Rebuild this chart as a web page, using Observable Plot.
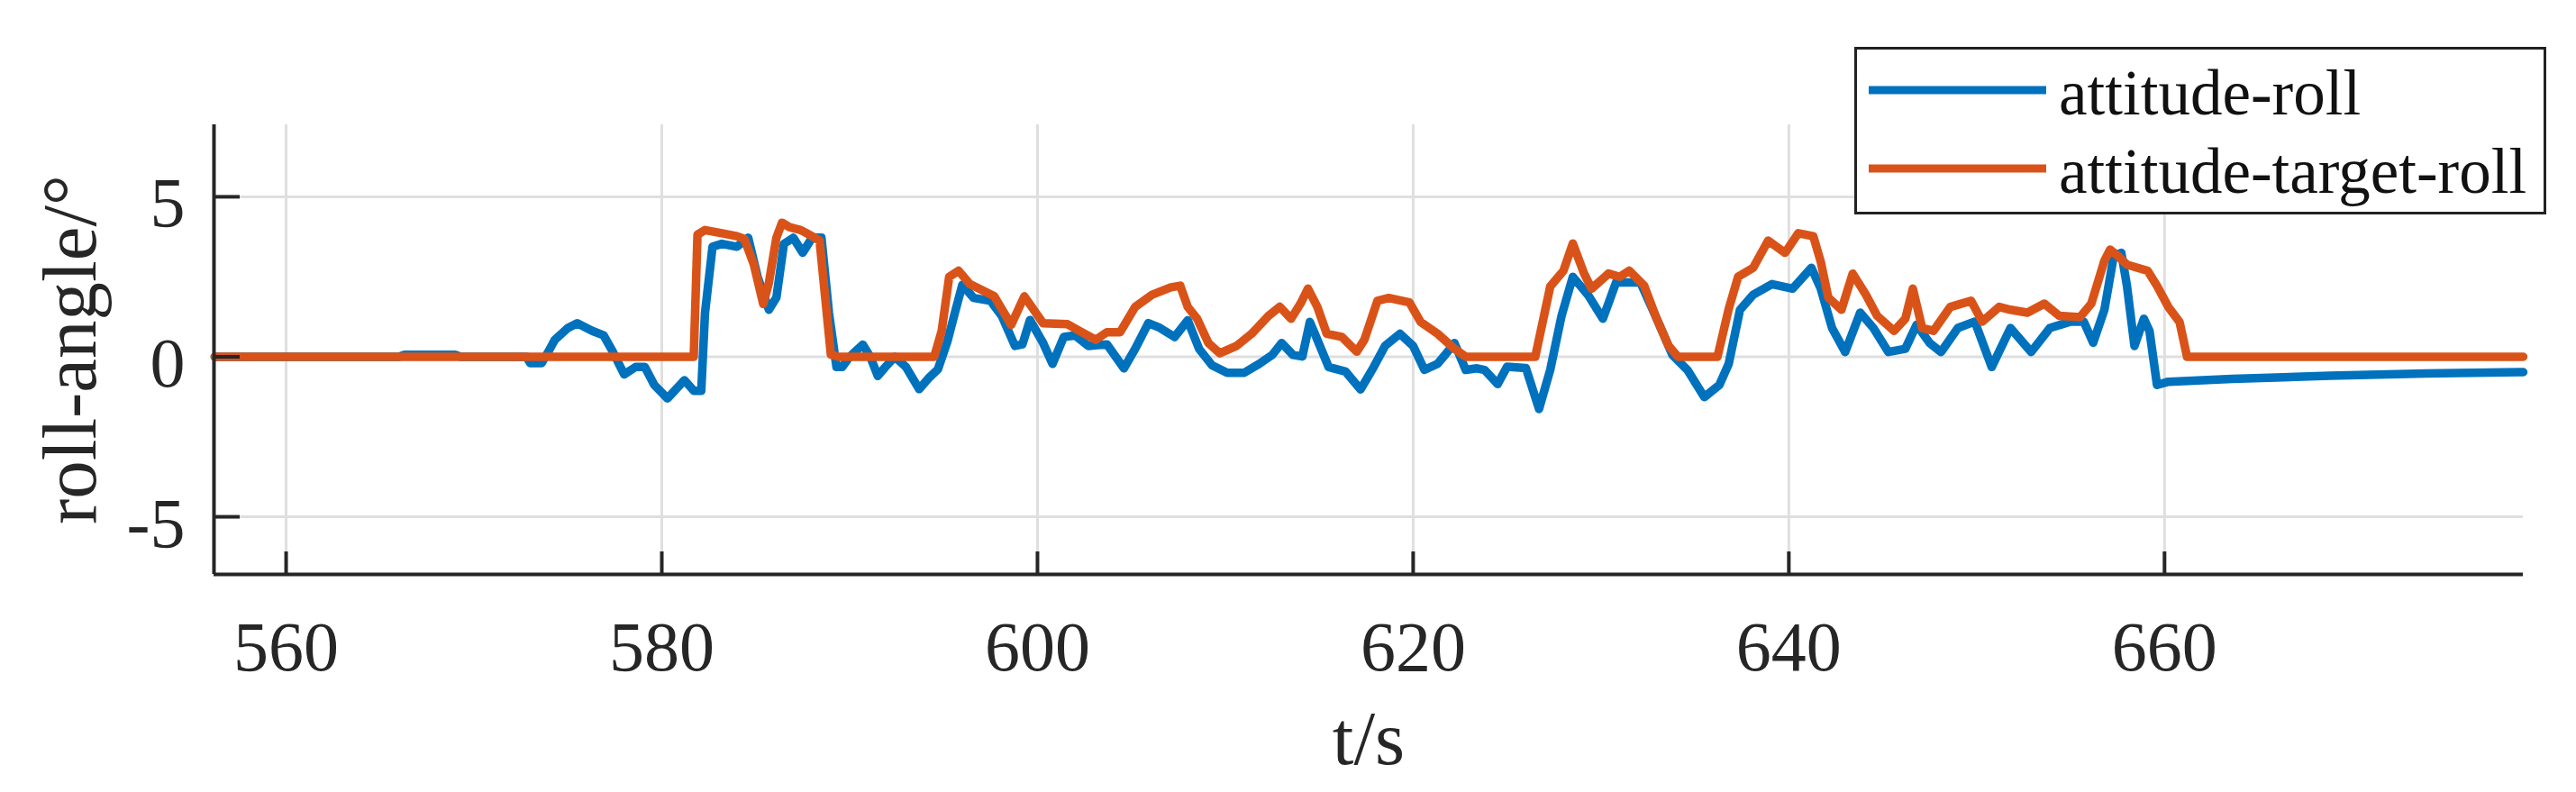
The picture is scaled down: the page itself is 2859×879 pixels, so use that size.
<!DOCTYPE html>
<html>
<head>
<meta charset="utf-8">
<script src="https://cdn.jsdelivr.net/npm/d3@7"></script>
<script src="https://cdn.jsdelivr.net/npm/@observablehq/plot@0.6"></script>
<style>
  body { margin: 0; background: #fff; }
  #wrap { position: relative; width: 2859px; height: 879px; background: #fff; }
  #wrap svg { font-family: "Liberation Serif", "Times New Roman", serif; }
  g[aria-label="x-axis label"] text, g[aria-label="y-axis label"] text { font-size: 85px; }
  #legend { position: absolute; left: 2058px; top: 52px; }
</style>
</head>
<body>
<div id="wrap"></div>
<script>
// ---- data ----
const seriesNames = ["attitude-roll", "attitude-target-roll"];
const seriesColors = ["#0072BD", "#D95319"];

const xTicks = [560, 580, 600, 620, 640, 660];
const yTicks = [-5, 0, 5];
const xDomain = [556.16, 679.1];
const yDomain = [-6.8, 7.25];

// attitude-roll
const rollT = [556.2, 566.0, 566.3, 569.0, 569.3, 572.8, 573.0, 573.6, 574.0, 574.3, 575.0, 575.5, 576.3, 576.9, 577.4, 578.0, 578.6, 579.1, 579.6, 580.3, 580.9, 581.2, 581.7, 582.1, 582.3, 582.7, 583.2, 584.0, 584.6, 585.1, 585.7, 586.1, 586.5, 587.0, 587.5, 588.0, 588.5, 588.9, 589.3, 589.6, 590.0, 590.7, 591.1, 591.5, 591.9, 592.4, 593.0, 593.7, 594.2, 594.7, 595.2, 595.6, 596.0, 596.6, 597.5, 598.1, 598.8, 599.2, 599.6, 600.3, 600.8, 601.4, 602.0, 602.7, 603.7, 604.6, 605.2, 605.9, 606.5, 607.3, 608.0, 608.6, 609.3, 610.1, 611.0, 611.8, 612.5, 613.0, 613.6, 614.1, 614.5, 614.9, 615.5, 616.4, 617.2, 617.9, 618.5, 619.3, 620.0, 620.6, 621.3, 621.7, 622.2, 622.8, 623.4, 623.8, 624.5, 625.0, 626.0, 626.7, 627.3, 627.9, 628.5, 629.3, 630.1, 630.8, 631.5, 632.1, 632.9, 633.8, 634.6, 635.5, 636.3, 636.8, 637.4, 638.1, 639.1, 640.2, 641.2, 641.7, 642.3, 643.0, 643.8, 644.5, 645.3, 646.2, 646.8, 647.5, 648.1, 649.0, 649.9, 650.8, 651.8, 652.9, 653.9, 655.0, 655.7, 656.2, 656.8, 657.3, 657.7, 658.0, 658.4, 658.9, 659.2, 659.6, 660.2, 663.6, 668.8, 673.9, 679.1];
const rollV = [0, 0, 0.06, 0.06, 0, 0, -0.2, -0.2, 0.2, 0.53, 0.9, 1.05, 0.81, 0.67, 0.15, -0.55, -0.32, -0.32, -0.88, -1.30, -0.92, -0.73, -1.06, -1.06, 1.37, 3.44, 3.53, 3.44, 3.72, 2.50, 1.47, 1.85, 3.53, 3.72, 3.25, 3.72, 3.72, 1.37, -0.32, -0.32, 0, 0.38, 0, -0.6, -0.32, 0, -0.32, -1.01, -0.67, -0.39, 0.47, 1.37, 2.25, 1.84, 1.75, 1.28, 0.34, 0.39, 1.15, 0.43, -0.22, 0.62, 0.67, 0.34, 0.39, -0.36, 0.25, 1.05, 0.91, 0.62, 1.14, 0.25, -0.27, -0.50, -0.50, -0.22, 0.06, 0.43, 0.06, 0.01, 1.09, 0.53, -0.32, -0.46, -1.02, -0.32, 0.34, 0.72, 0.34, -0.41, -0.22, 0.06, 0.43, -0.41, -0.36, -0.41, -0.85, -0.31, -0.35, -1.63, -0.4, 1.28, 2.50, 1.94, 1.19, 2.32, 2.32, 2.32, 1.28, 0.06, -0.41, -1.26, -0.88, -0.22, 1.47, 1.94, 2.27, 2.13, 2.78, 2.13, 0.90, 0.15, 1.38, 0.90, 0.15, 0.25, 1.00, 0.43, 0.15, 0.90, 1.10, -0.32, 0.90, 0.15, 0.90, 1.10, 1.10, 0.44, 1.47, 3.16, 3.25, 2.22, 0.34, 1.19, 0.81, -0.88, -0.78, -0.69, -0.59, -0.52, -0.48];

// attitude-target-roll
const targetT = [556.2, 581.7, 581.9, 582.3, 583.2, 584.0, 584.4, 584.9, 585.4, 585.7, 586.1, 586.4, 586.8, 587.4, 588.0, 588.4, 588.7, 589.0, 589.4, 594.5, 594.9, 595.3, 595.8, 596.4, 597.7, 598.6, 599.3, 600.3, 601.6, 602.2, 603.1, 603.7, 604.4, 605.2, 606.1, 607.1, 607.6, 608.0, 608.5, 609.1, 609.7, 610.6, 611.4, 612.3, 612.9, 613.5, 614.0, 614.4, 614.9, 615.4, 616.2, 617.0, 617.4, 618.1, 618.7, 619.8, 620.4, 621.3, 622.2, 622.8, 626.5, 627.3, 628.0, 628.5, 629.1, 629.5, 630.4, 631.0, 631.5, 632.3, 632.9, 633.6, 634.1, 636.2, 636.8, 637.3, 638.1, 638.9, 639.8, 640.5, 641.3, 641.7, 642.1, 642.8, 643.4, 644.1, 644.7, 645.6, 646.2, 646.6, 647.1, 647.7, 648.6, 649.7, 650.3, 651.2, 651.8, 652.7, 653.6, 654.4, 655.5, 656.1, 656.8, 657.1, 657.5, 658.0, 659.1, 659.6, 660.2, 660.8, 661.2, 679.1];
const targetV = [0, 0, 3.82, 3.96, 3.86, 3.77, 3.68, 2.88, 1.65, 2.31, 3.72, 4.19, 4.05, 3.96, 3.77, 3.63, 1.85, 0.07, 0, 0, 0.81, 2.50, 2.69, 2.27, 1.89, 1.00, 1.89, 1.05, 1.02, 0.82, 0.53, 0.77, 0.77, 1.56, 1.94, 2.17, 2.22, 1.56, 1.19, 0.43, 0.11, 0.34, 0.72, 1.28, 1.56, 1.19, 1.66, 2.13, 1.56, 0.72, 0.62, 0.16, 0.53, 1.75, 1.84, 1.70, 1.09, 0.72, 0.25, 0, 0, 2.2, 2.69, 3.54, 2.60, 2.13, 2.60, 2.50, 2.69, 2.22, 1.28, 0.34, 0, 0, 1.50, 2.50, 2.78, 3.63, 3.25, 3.86, 3.77, 2.97, 1.85, 1.47, 2.60, 1.94, 1.28, 0.81, 1.19, 2.13, 0.90, 0.81, 1.56, 1.75, 1.10, 1.56, 1.47, 1.38, 1.66, 1.28, 1.24, 1.66, 3.0, 3.35, 3.16, 2.88, 2.69, 2.22, 1.56, 1.09, 0, 0];

// ---- build ----
const roll = rollT.map((t, i) => ({t, v: rollV[i]}));
const target = targetT.map((t, i) => ({t, v: targetV[i]}));

const W = 2859, H = 879;
const mL = 237, mR = 59, mT = 138, mB = 242;
const innerW = W - mL - mR, innerH = H - mT - mB;
const axisColor = "#262626";
const gridColor = "#dfdfdf";

const chart = Plot.plot({
  width: W,
  height: H,
  marginLeft: mL,
  marginRight: mR,
  marginTop: mT,
  marginBottom: mB,
  style: {fontFamily: "Liberation Serif, Times New Roman, serif", fontSize: "78px", color: axisColor, background: "#fff"},
  x: {domain: xDomain},
  y: {domain: yDomain},
  marks: [
    Plot.gridX(xTicks, {stroke: gridColor, strokeOpacity: 1, strokeWidth: 3}),
    Plot.gridY(yTicks, {stroke: gridColor, strokeOpacity: 1, strokeWidth: 3}),
    Plot.line(roll, {x: "t", y: "v", stroke: seriesColors[0], strokeWidth: 9.5, strokeLinejoin: "round"}),
    Plot.line(target, {x: "t", y: "v", stroke: seriesColors[1], strokeWidth: 9.5, strokeLinejoin: "round"}),
    Plot.ruleX([xDomain[0]], {stroke: axisColor, strokeWidth: 4}),
    Plot.ruleY([yDomain[0]], {stroke: axisColor, strokeWidth: 4}),
    Plot.tickX(xTicks, {x: d => d, insetTop: innerH - 25, stroke: axisColor, strokeWidth: 4}),
    Plot.tickY(yTicks, {y: d => d, insetRight: innerW - 29, stroke: axisColor, strokeWidth: 4}),
    Plot.axisX(xTicks, {tickSize: 0, tickPadding: 51, fontSize: 78, tickFormat: d => String(d),
      label: "t/s", labelAnchor: "center", labelArrow: "none", labelOffset: 210}),
    Plot.axisY(yTicks, {tickSize: 0, tickPadding: 32, dy: 8, fontSize: 78, tickFormat: d => String(d),
      label: "roll-angle/°", labelAnchor: "center", labelArrow: "none", labelOffset: 192})
  ]
});

const wrap = document.getElementById("wrap");
wrap.appendChild(chart);

// legend box (overlaid in the upper right like the original)
const legW = 768, legH = 186;
const leg = d3.select(wrap).append("svg")
  .attr("id", "legend")
  .attr("width", legW)
  .attr("height", legH)
  .style("font-family", "Liberation Serif, Times New Roman, serif");
leg.append("rect")
  .attr("x", 1.5).attr("y", 1.5)
  .attr("width", legW - 3).attr("height", legH - 3)
  .attr("fill", "#fff").attr("stroke", "#222").attr("stroke-width", 3);
const rows = [48, 135];
seriesNames.forEach((name, i) => {
  leg.append("line")
    .attr("x1", 16).attr("x2", 213)
    .attr("y1", rows[i]).attr("y2", rows[i])
    .attr("stroke", seriesColors[i]).attr("stroke-width", 9);
  leg.append("text")
    .attr("x", 227).attr("y", rows[i] + 27)
    .attr("font-size", 71)
    .attr("fill", "#111")
    .text(name);
});
</script>
</body>
</html>
